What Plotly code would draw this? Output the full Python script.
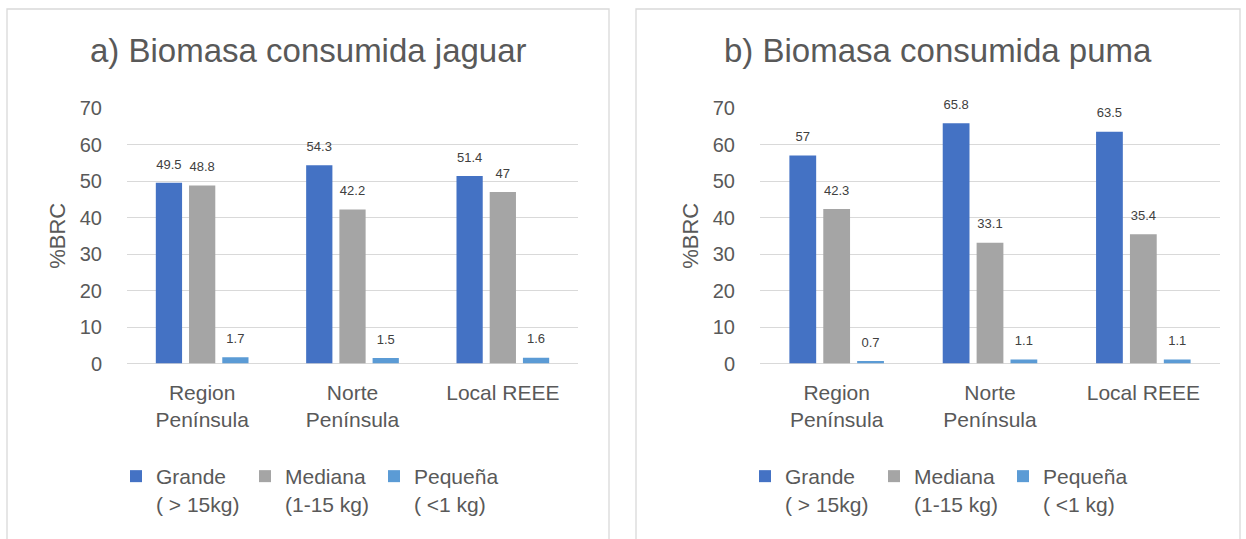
import plotly.graph_objects as go

W, H = 1246, 539

categories = ["Region<br>Península", "Norte<br>Península", "Local REEE"]
series_names = ["Grande<br>( > 15kg)", "Mediana<br>(1-15 kg)", "Pequeña<br>( <1 kg)"]
colors = ["#4472C4", "#A5A5A5", "#5B9BD5"]

jaguar_grande = [49.5, 54.3, 51.4]
jaguar_mediana = [48.8, 42.2, 47]
jaguar_pequena = [1.7, 1.5, 1.6]

puma_grande = [57, 65.8, 63.5]
puma_mediana = [42.3, 33.1, 35.4]
puma_pequena = [0.7, 1.1, 1.1]

y_ticks = [0, 10, 20, 30, 40, 50, 60, 70]

FONT = "Liberation Sans"
TXT = "#595959"
BARGAP = 0.337

def px(x):
    return x / W

def py(y):
    return 1 - y / H

fig = go.Figure()

panels = [
    dict(data=[jaguar_grande, jaguar_mediana, jaguar_pequena], xa="x", ya="y", legend="legend",
         xdom=(127, 578), title="a) Biomasa consumida jaguar", box=(7, 609), leg_x=131),
    dict(data=[puma_grande, puma_mediana, puma_pequena], xa="x2", ya="y2", legend="legend2",
         xdom=(760, 1220), title="b) Biomasa consumida puma", box=(636, 1240), leg_x=760),
]

for pi, p in enumerate(panels):
    for si, (name, vals, col) in enumerate(zip(series_names, p["data"], colors)):
        fig.add_trace(go.Bar(
            x=categories, y=vals, name=name, marker_color=col, marker_line_width=0,
            xaxis=p["xa"], yaxis=p["ya"], legend=p["legend"],
            offsetgroup=f"s{si}", alignmentgroup=f"p{pi}",
            hoverinfo="skip",
        ))
    for si, vals in enumerate(p["data"]):
        fig.add_trace(go.Scatter(
            x=categories, y=vals, mode="markers+text",
            marker=dict(size=16, opacity=0), showlegend=False,
            text=[f"{v:g}" for v in vals], textposition="top center",
            textfont=dict(size=13, color="#404040", family=FONT),
            xaxis=p["xa"], yaxis=p["ya"],
            offsetgroup=f"s{si}", alignmentgroup=f"p{pi}",
            cliponaxis=False, hoverinfo="skip",
        ))

ydom = (py(363.5), py(108))

layout = dict(
    width=W, height=H,
    margin=dict(l=0, r=0, t=0, b=0, autoexpand=False),
    paper_bgcolor="white", plot_bgcolor="white",
    barmode="group", bargap=BARGAP, bargroupgap=0.21,
    scattermode="group", scattergap=BARGAP,
    font=dict(family=FONT, color=TXT),
    showlegend=True,
)

for i, p in enumerate(panels):
    sfx = "" if i == 0 else "2"
    layout["xaxis" + sfx] = dict(
        domain=[px(p["xdom"][0]), px(p["xdom"][1])], anchor="y" + sfx,
        showgrid=False, showline=False, ticks="", automargin=False,
        tickfont=dict(size=21, color=TXT, family=FONT), ticklabelstandoff=14,
    )
    layout["yaxis" + sfx] = dict(
        domain=list(ydom), anchor="x" + sfx, range=[0, 70],
        tickvals=y_ticks, showgrid=True, gridcolor="#D9D9D9", gridwidth=1.3,
        zeroline=True, zerolinecolor="#D9D9D9", zerolinewidth=1.3,
        ticks="", automargin=False,
        tickfont=dict(size=20, color=TXT, family=FONT), ticklabelstandoff=24,
        title=dict(text="%BRC", font=dict(size=22, color=TXT, family=FONT), standoff=8),
    )
    layout["legend" + sfx] = dict(
        orientation="h", x=px(p["leg_x"] - 15), xanchor="left", y=py(456), yanchor="top",
        font=dict(size=21, color=TXT, family=FONT), itemwidth=30, valign="top",
        bgcolor="rgba(0,0,0,0)", entrywidth=84, entrywidthmode="pixels",
    )

fig.update_layout(**layout)

annots = []
shapes = []
for p in panels:
    cx = (p["box"][0] + p["box"][1]) / 2
    annots.append(dict(
        text=p["title"], x=px(cx), y=py(51), xref="paper", yref="paper",
        xanchor="center", yanchor="middle", showarrow=False,
        font=dict(size=33, color=TXT, family=FONT),
    ))
    shapes.append(dict(
        type="rect", xref="paper", yref="paper",
        x0=px(p["box"][0]), x1=px(p["box"][1]), y0=-0.05, y1=py(9),
        line=dict(color="#D9D9D9", width=1.3), fillcolor="rgba(0,0,0,0)", layer="below",
    ))

fig.update_layout(annotations=annots, shapes=shapes)

fig.write_html(
    "out.html",
    config={"displayModeBar": False},
    post_script="document.body.style.margin='0';document.body.style.overflow='hidden';",
)
